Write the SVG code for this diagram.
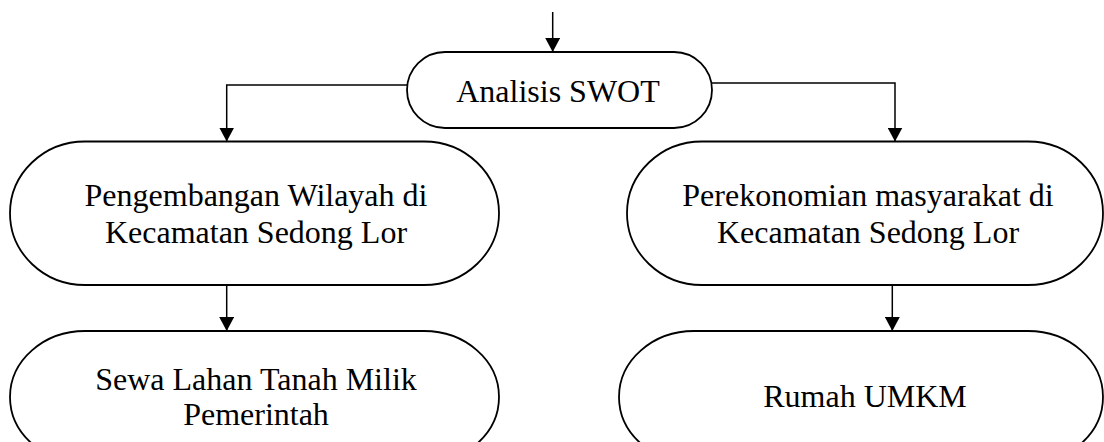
<svg xmlns="http://www.w3.org/2000/svg" width="1104" height="442" viewBox="0 0 1104 442">
<style>
.node{fill:#fff;stroke:#000;stroke-width:1.8}
.conn{fill:none;stroke:#000;stroke-width:1.5}
.lbl{font-family:"Liberation Serif","Times New Roman",serif;font-size:32px;fill:#000;text-anchor:middle}
</style>
<defs>
<marker id="arr" markerUnits="userSpaceOnUse" markerWidth="16" markerHeight="15" refX="14" refY="7.5" orient="auto">
<path d="M0,0 L14,7.5 L0,15 Z" fill="#000"/>
</marker>
</defs>
<g id="connectors">
<line class="conn" x1="552.7" y1="12" x2="552.7" y2="52" marker-end="url(#arr)"/>
<polyline class="conn" points="407,85 226.7,85 226.7,141.5" marker-end="url(#arr)"/>
<polyline class="conn" points="712,83 895,83 895,141.5" marker-end="url(#arr)"/>
<line class="conn" x1="226.7" y1="285" x2="226.7" y2="331" marker-end="url(#arr)"/>
<line class="conn" x1="892.3" y1="285" x2="892.3" y2="331" marker-end="url(#arr)"/>
</g>
<g id="analisis">
<rect class="node" x="407" y="52" width="305" height="76" rx="38" ry="38"/>
<text class="lbl" x="558" y="101.7">Analisis SWOT</text>
</g>
<g id="pengembangan">
<path class="node" d="M85,141.5 L424,141.5 A75,71.75 0 0 1 424,285 L85,285 A75,71.75 0 0 1 85,141.5 Z"/>
<text class="lbl" x="256" y="206">Pengembangan Wilayah di</text>
<text class="lbl" x="256" y="243">Kecamatan Sedong Lor</text>
</g>
<g id="perekonomian">
<path class="node" d="M702,141.5 L1028,141.5 A75,71.75 0 0 1 1028,285 L702,285 A75,71.75 0 0 1 702,141.5 Z"/>
<text class="lbl" x="868" y="206">Perekonomian masyarakat di</text>
<text class="lbl" x="868" y="242.5">Kecamatan Sedong Lor</text>
</g>
<g id="sewa">
<path class="node" d="M85,331 L424,331 A75,66 0 0 1 424,463 L85,463 A75,66 0 0 1 85,331 Z"/>
<text class="lbl" x="256" y="390">Sewa Lahan Tanah Milik</text>
<text class="lbl" x="256" y="425">Pemerintah</text>
</g>
<g id="rumah">
<path class="node" d="M694,331 L1028,331 A75,66 0 0 1 1028,463 L694,463 A75,66 0 0 1 694,331 Z"/>
<text class="lbl" x="865" y="407">Rumah UMKM</text>
</g>
</svg>
